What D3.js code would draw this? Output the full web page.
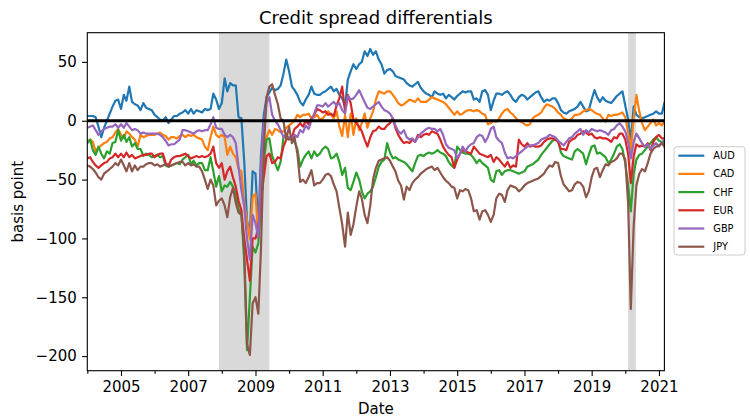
<!DOCTYPE html>
<html>
<head>
<meta charset="utf-8">
<script src="https://cdn.jsdelivr.net/npm/d3@7"></script>
<style>
  body { margin: 0; background: #fff; }
  svg { display: block; font-family: "DejaVu Sans", sans-serif; }
</style>
</head>
<body>
<svg id="chart" width="750" height="418"></svg>
<script>
// Monthly credit spread differentials (basis points), Jan 2004 - Mar 2021
const firstMonth = "2004-01-01";
const lastMonth = "2021-03-01";

const currencies = ["AUD", "CAD", "CHF", "EUR", "GBP", "JPY"];
const colors = ["#1f77b4", "#ff7f0e", "#2ca02c", "#d62728", "#9467bd", "#8c564b"];

const AUD = [
  4, 4, 4, 3, -5, -14, -6, 0, 6, 12, 17, 18,            // 2004
  10, 22, 17, 29, 16, 14, 13, 9, 15, 11, 10, 9,          // 2005
  5, 3, 1, 0, 3, -2, 1, 4, 4, 6, 7, 9,                   // 2006
  6, 10, 6, 9, 8, 7, 10, 9, 10, 23, 18, 10,              // 2007
  15, 36, 25, 32, 30, 30, 3, 2, -35, -85, -95, -43,      // 2008
  -45, -92, -30, 5, 20, 24, 28, 26, 27, 30, 40, 52,      // 2009
  42, 29, 26, 22, 16, 13, 18, 22, 29, 23, 22, 22,        // 2010
  24, 25, 27, 29, 25, 27, 22, 19, 12, 35, 42, 48,        // 2011
  44, 48, 50, 59, 55, 61, 56, 59, 52, 48, 40, 43,        // 2012
  44, 42, 38, 37, 36, 35, 32, 30, 29, 31, 33, 28,        // 2013
  25, 23, 22, 20, 25, 23, 22, 23, 19, 22, 20, 18,        // 2014
  21, 23, 25, 24, 25, 25, 18, 19, 16, 25, 26, 22,        // 2015
  9, 17, 23, 23, 22, 24, 25, 22, 18, 16, 20, 22,         // 2016
  21, 18, 20, 22, 24, 25, 20, 16, 18, 17, 19, 19,        // 2017
  15, 9, 7, 6, 8, 9, 10, 12, 16, 12, 8, 9,               // 2018
  18, 26, 20, 16, 20, 17, 16, 15, 18, 21, 23, 25,        // 2019
  13, 1, -18, 12, 5, 3, 2, 3, 4, 5, 6, 8,                // 2020
  6, 6, 15                                               // 2021
];

const CAD = [
  -18, -16, -18, -26, -23, -21, -19, -18, -15, -14, -10, -7,
  -12, -15, -9, -11, -14, -16, -22, -12, -14, -13, -12, -12,
  -12, -11, -10, -12, -13, -16, -14, -14, -15, -13, -12, -14,
  -12, -13, -12, -14, -15, -16, -22, -25, -14, -5, -12, -14,
  -12, -14, -29, -22, -28, -31, -41, -43, -70, -85, -101, -65,
  -62, -100, -75, -30, -14, -8, -12, -7, -8, -10, -9, -6,
  -4, -2, 0, 5, 3, 5, 5, 6, 2, 3, 5, 1,
  2, 5, 8, 5, 2, 8, -5, -13, 5, -14, 6, -12,
  2, -8, -2, 6, -6, 2, 8, 18, 25, 24, 23, 25,
  25, 22, 19, 15, 13, 14, 16, 18, 17, 16, 19, 16,
  16, 16, 18, 20, 19, 18, 17, 16, 14, 11, 8, 5,
  8, 5, 6, 8, 9, 9, 8, 9, 8, 6, 5, -3,
  -2, 0, -1, 2, 6, 9, 10, 7, 5, 2, 0, -1,
  -3, -4, -3, 2, 4, 5, 7, 11, 14, 13, 12, 10,
  7, 5, 2, 1, 0, 2, 5, 5, 6, 8, 9, 10,
  9, 7, 6, 5, 2, -1, 5, 4, 5, 5, 6, 7,
  3, -10, -25, 2, 22, 8, -2, -8, -5, -2, 1, -4,
  -2, -4, -1
];

const CHF = [
  -19, -16, -25, -29, -22, -28, -32, -26, -28, -19, -18, -8,
  -17, -12, -18, -14, -22, -19, -24, -24, -30, -28, -29, -31,
  -30, -29, -31, -30, -38, -39, -38, -37, -36, -37, -33, -31,
  -29, -37, -34, -38, -36, -36, -42, -42, -31, -43, -56, -47,
  -60, -55, -56, -52, -56, -62, -75, -79, -120, -195, -150, -107,
  -112, -104, -73, -35, -16, -15, -30, -36, -42, -35, -14, -12,
  -16, -15, -18, -24, -39, -33, -29, -26, -32, -26, -30, -28,
  -24, -22, -24, -32, -31, -28, -35, -46, -40, -57, -59, -52,
  -44, -50, -60, -66, -62, -60, -56, -48, -39, -35, -33, -19,
  -27, -32, -31, -33, -34, -35, -37, -40, -43, -36, -30, -29,
  -30, -28, -27, -28, -27, -25, -27, -28, -30, -35, -38, -40,
  -22, -25, -27, -28, -28, -29, -32, -36, -33, -36, -38, -40,
  -50, -52, -43, -42, -46, -43, -42, -42, -43, -44, -45, -44,
  -43, -39, -38, -37, -35, -33, -29, -26, -23, -20, -17, -16,
  -17, -27, -30, -31, -32, -33, -26, -24, -26, -28, -37, -29,
  -22, -21, -28, -27, -29, -31, -36, -33, -28, -22, -20, -24,
  -36, -55, -77, -45, -33, -29, -28, -25, -22, -19, -16, -14,
  -17, -18, -19
];

const EUR = [
  -32, -31, -35, -38, -40, -38, -36, -35, -32, -31, -28, -31,
  -28, -31, -27, -31, -29, -32, -31, -30, -29, -29, -28, -28,
  -31, -29, -28, -28, -36, -38, -33, -31, -30, -30, -29, -28,
  -30, -32, -31, -30, -31, -30, -31, -30, -28, -22, -36, -40,
  -36, -50, -43, -39, -48, -56, -68, -76, -100, -118, -136, -100,
  -100, -91, -67, -48, -30, -28, -36, -35, -31, -32, -22, -16,
  -15, -14, -7, -5, -2, -5, 0, -3, 2, 5, 10, 9,
  7, 8, 5, 6, 4, 13, 19, 29, 8, 22, 15, 1,
  -2, -5, -9, -16, -22, -14, -9, -8, -5, -7, -7, -4,
  -2, 2, -6, -12, -16, -19, -18, -19, -16, -18, -12, -14,
  -12, -11, -12, -9, -10, -11, -16, -22, -26, -29, -31, -40,
  -33, -28, -25, -26, -27, -28, -22, -25, -28, -29, -30, -31,
  -29, -35, -31, -33, -36, -39, -35, -40, -38, -39, -16, -20,
  -22, -19, -22, -21, -22, -22, -21, -18, -16, -15, -15, -16,
  -18, -24, -24, -25, -18, -16, -15, -12, -11, -9, -10, -12,
  -11, -14, -15, -14, -15, -15, -16, -18, -14, -15, -11, -11,
  -16, -28, -53, -30, -20, -22, -21, -22, -19, -25, -18, -14,
  -12, -15, -15
];

const GBP = [
  -6, -5, -4, -8, -12, -9, -7, -6, -5, -5, -3, -6,
  -3, -6, -2, -5, -8, -7, -8, -11, -10, -11, -11, -11,
  -11, -11, -12, -14, -17, -21, -20, -20, -18, -16, -8, -8,
  -9, -10, -11, -9, -8, -9, -8, -8, -3, 3, -6, -7,
  -7, -12, -14, -12, -14, -19, -39, -59, -73, -100, -118, -80,
  -87, -99, -39, -2, 15, 20, 5, 0, -3, -8, -14, -13,
  -14, -15, -12, -14, -8, -10, -4, -7, 0, 6, 13, 13,
  12, 15, 12, 14, 16, 13, 15, 9, 6, 21, 18, 19,
  22, 26, 21, 16, 11, 10, 12, 14, 16, 12, 9, 8,
  6, 2, -4, -9, -11, -8, -14, -16, -15, -18, -14, -11,
  -9, -7, -6, -7, -7, -9, -7, -12, -20, -23, -24, -25,
  -32, -28, -22, -26, -22, -20, -19, -14, -12, -13, -18, -14,
  -7, -5, -14, -17, -19, -27, -32, -31, -32, -30, -28, -26,
  -24, -22, -21, -21, -20, -19, -16, -15, -14, -12, -13, -14,
  -17, -19, -21, -18, -15, -14, -11, -9, -7, -12, -8, -10,
  -7, -8, -9, -8, -9, -10, -12, -8, -7, -4, -2, -5,
  -9, -18, -32, -18, -11, -15, -19, -22, -20, -24, -21, -19,
  -22, -19, -16
];

const JPY = [
  -38, -39, -41, -44, -48, -50, -45, -43, -41, -39, -36, -38,
  -33, -38, -43, -36, -43, -38, -42, -39, -39, -37, -36, -36,
  -38, -37, -39, -38, -37, -39, -38, -37, -36, -35, -35, -38,
  -36, -38, -37, -39, -39, -43, -50, -58, -50, -55, -72, -68,
  -66, -72, -82, -65, -57, -70, -78, -80, -110, -190, -199, -155,
  -150, -164, -110, -25, 20, 29, 31, 22, 14, 2, 0, -16,
  -5, -19, -14, -28, -52, -50, -53, -48, -42, -55, -53, -53,
  -50, -46, -45, -47, -54, -60, -74, -88, -107, -78, -97, -88,
  -73, -60, -66, -80, -87, -72, -50, -40, -34, -33, -32, -31,
  -34, -39, -43, -51, -55, -67, -56, -59, -53, -50, -48, -45,
  -43, -41, -40, -39, -42, -40, -44, -48, -51, -53, -56, -57,
  -66, -59, -60, -58, -59, -66, -77, -76, -84, -77, -76, -80,
  -86, -80, -66, -62, -63, -69, -59, -55, -56, -57, -60, -58,
  -55, -53, -52, -51, -50, -49, -47, -45, -41, -38, -39, -35,
  -36, -47, -54, -57, -60, -59, -54, -52, -53, -56, -65, -60,
  -48, -41, -40, -48, -42, -37, -38, -35, -34, -32, -28, -28,
  -33, -70, -160, -90, -55, -45, -41, -43, -36, -28, -24, -22,
  -21, -19, -22
];

const seriesValues = [AUD, CAD, CHF, EUR, GBP, JPY];

// Shaded recession periods
const recessionStart = ["2007-12-01", "2020-02-01"];
const recessionEnd = ["2009-06-01", "2020-04-25"];

const yTicks = [-200, -150, -100, -50, 0, 50];
const xMajorYears = [2005, 2007, 2009, 2011, 2013, 2015, 2017, 2019, 2021];
const xMinorYears = [2004, 2006, 2008, 2010, 2012, 2014, 2016, 2018, 2020];

const title = "Credit spread differentials";
const xTitle = "Date";
const yTitle = "basis point";

// ---- layout ----
const plot = { left: 87.3, right: 664.4, top: 32.7, bottom: 370.7 };
const parse = d3.timeParse("%Y-%m-%d");
const months = d3.timeMonth.range(parse(firstMonth), d3.timeMonth.offset(parse(lastMonth), 1));

const x = d3.scaleTime()
  .domain([parse(firstMonth), parse(lastMonth)])
  .range([plot.left, plot.right]);
const y = d3.scaleLinear()
  .domain([-212.4, 74.8])
  .range([plot.bottom, plot.top]);

const svg = d3.select("#chart");

svg.append("defs").append("clipPath").attr("id", "plot-clip")
  .append("rect")
  .attr("x", plot.left).attr("y", plot.top)
  .attr("width", plot.right - plot.left).attr("height", plot.bottom - plot.top);

// recession shading
svg.append("g").selectAll("rect")
  .data(recessionStart.map((s, i) => [parse(s), parse(recessionEnd[i])]))
  .join("rect")
  .attr("x", d => x(d[0]))
  .attr("y", plot.top)
  .attr("width", d => x(d[1]) - x(d[0]))
  .attr("height", plot.bottom - plot.top)
  .attr("fill", "#d9d9d9");

// series lines
const line = d3.line()
  .x((d, i) => x(months[i]))
  .y(d => y(d));

const lines = svg.append("g").attr("clip-path", "url(#plot-clip)");
seriesValues.forEach((vals, k) => {
  lines.append("path")
    .datum(vals)
    .attr("d", line)
    .attr("fill", "none")
    .attr("stroke", colors[k])
    .attr("stroke-width", 2.2)
    .attr("stroke-linejoin", "round")
    .attr("stroke-linecap", "square");
});

// zero reference line
svg.append("line")
  .attr("x1", plot.left).attr("x2", plot.right)
  .attr("y1", y(0)).attr("y2", y(0))
  .attr("stroke", "#000").attr("stroke-width", 3);

// axes
const fmtY = d => d < 0 ? "\u2212" + Math.abs(d) : String(d);
const yAxis = d3.axisLeft(y).tickValues(yTicks).tickFormat(fmtY)
  .tickSize(5.25).tickPadding(5.25);
const gy = svg.append("g").attr("transform", `translate(${plot.left},0)`).call(yAxis);

const xAxisMajor = d3.axisBottom(x)
  .tickValues(xMajorYears.map(yr => new Date(yr, 0, 1)))
  .tickFormat(d3.timeFormat("%Y"))
  .tickSize(5.25).tickPadding(5.25);
const gx = svg.append("g").attr("transform", `translate(0,${plot.bottom})`).call(xAxisMajor);

const xAxisMinor = d3.axisBottom(x)
  .tickValues(xMinorYears.map(yr => new Date(yr, 0, 1)))
  .tickFormat("")
  .tickSize(3);
const gxm = svg.append("g").attr("transform", `translate(0,${plot.bottom})`).call(xAxisMinor);

[gx, gy, gxm].forEach(g => {
  g.select(".domain").remove();
  g.selectAll("line").attr("stroke", "#000").attr("stroke-width", 1.1);
  g.selectAll("text").attr("fill", "#000").attr("font-size", 15)
    .attr("font-family", "DejaVu Sans, sans-serif");
});

// frame
svg.append("rect")
  .attr("x", plot.left).attr("y", plot.top)
  .attr("width", plot.right - plot.left).attr("height", plot.bottom - plot.top)
  .attr("fill", "none").attr("stroke", "#000").attr("stroke-width", 1.1);

// titles
const cx = (plot.left + plot.right) / 2;
svg.append("text").attr("x", cx).attr("y", 23.5)
  .attr("text-anchor", "middle").attr("font-size", 18).text(title);
svg.append("text").attr("x", cx).attr("y", 413.6)
  .attr("text-anchor", "middle").attr("font-size", 15).text(xTitle);
svg.append("text")
  .attr("transform", `translate(23.2,${(plot.top + plot.bottom) / 2}) rotate(-90)`)
  .attr("text-anchor", "middle").attr("font-size", 15).text(yTitle);

// legend
const lg = svg.append("g").attr("transform", "translate(674,146.7)");
lg.append("rect")
  .attr("width", 71).attr("height", 108.3).attr("rx", 3)
  .attr("fill", "#fff").attr("fill-opacity", 0.8)
  .attr("stroke", "#cccccc").attr("stroke-width", 1);
const items = lg.selectAll("g.item").data(currencies).join("g")
  .attr("class", "item")
  .attr("transform", (d, i) => `translate(0,${9 + i * 18.2})`);
items.append("line")
  .attr("x1", 4.3).attr("x2", 30.3)
  .attr("stroke", (d, i) => colors[i]).attr("stroke-width", 2.2);
items.append("text")
  .attr("x", 39.3).attr("dy", "0.36em")
  .attr("font-size", 9.8).text(d => d);
</script>
</body>
</html>
